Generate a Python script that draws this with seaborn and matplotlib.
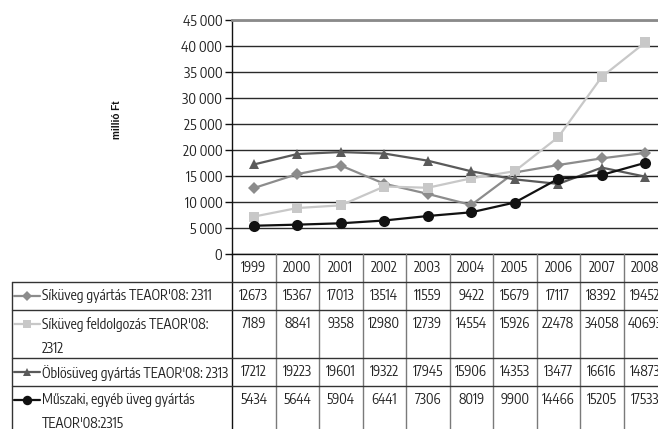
import numpy as np
import pandas as pd
import seaborn as sns
import matplotlib.pyplot as plt
import matplotlib.transforms as mtransforms
from matplotlib.lines import Line2D
from matplotlib.ticker import FuncFormatter
from matplotlib import font_manager

years = ["1999", "2000", "2001", "2002", "2003", "2004", "2005", "2006", "2007", "2008"]
names = [
    "Síküveg gyártás TEAOR'08: 2311",
    "Síküveg feldolgozás TEAOR'08:\n2312",
    "Öblösüveg gyártás TEAOR'08: 2313",
    "Műszaki, egyéb üveg gyártás\nTEAOR'08:2315",
]
sikuveg_gyartas = [12673, 15367, 17013, 13514, 11559, 9422, 15679, 17117, 18392, 19452]
sikuveg_feldolg = [7189, 8841, 9358, 12980, 12739, 14554, 15926, 22478, 34058, 40693]
oblosuveg = [17212, 19223, 19601, 19322, 17945, 15906, 14353, 13477, 16616, 14873]
muszaki = [5434, 5644, 5904, 6441, 7306, 8019, 9900, 14466, 15205, 17533]
series = [sikuveg_gyartas, sikuveg_feldolg, oblosuveg, muszaki]
yticks = np.arange(0, 45001, 5000)

colors = ["#8c8c8c", "#c8c8c8", "#5a5a5a", "#111111"]
markers = ["D", "s", "^", "o"]
msizes = [6, 7.5, 7.5, 8]

df = pd.DataFrame({
    "idx": np.tile(np.arange(len(years)), len(names)),
    "value": np.concatenate(series),
    "series": np.repeat(names, len(years)),
})

sns.set_style("white")
# a narrow font is closest to the original; pick one deterministically
avail = sorted({f.name for f in font_manager.fontManager.ttflist})
skip = ("Light", "Thin", "Black", "Bold", "Medium", "Semi", "Extra", "Mono")
narrow = [n for n in avail if ("Narrow" in n or "Condensed" in n)
          and not any(k in n for k in skip)]
narrow.sort(key=lambda n: (0 if "Sans" in n else 1, n))
base = narrow[0] if narrow else "Liberation Sans"
plt.rcParams["font.family"] = [base, "DejaVu Sans"]
k = 1.0 if narrow else 0.9

W, H = 658, 429
fig = plt.figure(figsize=(W / 100, H / 100), dpi=100)
ax = fig.add_axes([232 / W, (H - 254) / H, (667 - 232) / W, (254 - 20) / H])

for name, c, m, ms in zip(names, colors, markers, msizes):
    sns.lineplot(data=df[df["series"] == name], x="idx", y="value", ax=ax,
                 color=c, marker=m, markersize=ms, markeredgewidth=0,
                 linewidth=1.6, legend=False, clip_on=False)

ax.set_xlim(-0.5, len(years) - 0.5)
ax.set_ylim(0, 45000)
ax.set_yticks(yticks)
ax.yaxis.set_major_formatter(FuncFormatter(lambda v, p: f"{v:,.0f}".replace(",", " ")))
ax.set_xticks([])
ax.set_xlabel("")
ax.set_ylabel("")
ax.yaxis.grid(True, color="#2a2a2a", linewidth=1)
ax.set_axisbelow(True)
ax.tick_params(axis="y", length=5, width=1, color="#111", pad=2,
               labelsize=10.2 * k, labelcolor="#222", left=True)
for s in ["left", "bottom"]:
    ax.spines[s].set_color("#111")
    ax.spines[s].set_linewidth(1)
ax.spines["top"].set_color("#8a8a8a")
ax.spines["top"].set_linewidth(2)
ax.spines["right"].set_visible(False)

fig.text(117 / W, 1 - 120 / H, "millió Ft", rotation=90, fontsize=7.2,
         family=["Liberation Sans", "DejaVu Sans"],
         fontweight="bold", ha="center", va="center", color="#111")

# data table under the chart
def fy(py):
    return 1 - py / H

bt = mtransforms.blended_transform_factory(ax.transData, fig.transFigure)
row_lines = [282, 310, 358, 386]
row_text = [289, 317, 365, 393]
hcol = "#333333"
vcol = "#7a7a7a"

for i in range(len(years) + 1):
    fig.add_artist(Line2D([i - 0.5, i - 0.5], [fy(254), fy(440)], transform=bt,
                          color="#111" if i == 0 else vcol, linewidth=1, clip_on=False))
for py in row_lines:
    fig.add_artist(Line2D([12 / W, 1.02], [fy(py), fy(py)], transform=fig.transFigure,
                          color=hcol, linewidth=1, clip_on=False))
fig.add_artist(Line2D([12 / W, 12 / W], [fy(282), fy(440)], transform=fig.transFigure,
                      color=hcol, linewidth=1, clip_on=False))

for i, yr in enumerate(years):
    fig.text(i, fy(261), yr, transform=bt, ha="center", va="top",
             fontsize=10 * k, color="#222")

for r, (name, vals, c, m, ms) in enumerate(zip(names, series, colors, markers, msizes)):
    ty = row_text[r]
    fig.text(42 / W, fy(ty), name, ha="left", va="top", fontsize=10 * k,
             color="#222", linespacing=1.9)
    ky = ty + 7
    fig.add_artist(Line2D([14 / W, 40 / W], [fy(ky), fy(ky)], transform=fig.transFigure,
                          color=c, linewidth=1.6))
    fig.add_artist(Line2D([27 / W], [fy(ky)], transform=fig.transFigure, color=c,
                          marker=m, markersize=ms * 0.85, markeredgewidth=0))
    for i, v in enumerate(vals):
        fig.text(i, fy(ty), str(v), transform=bt, ha="center", va="top",
                 fontsize=10 * k, color="#222")

fig.savefig("out.png", dpi=100)
